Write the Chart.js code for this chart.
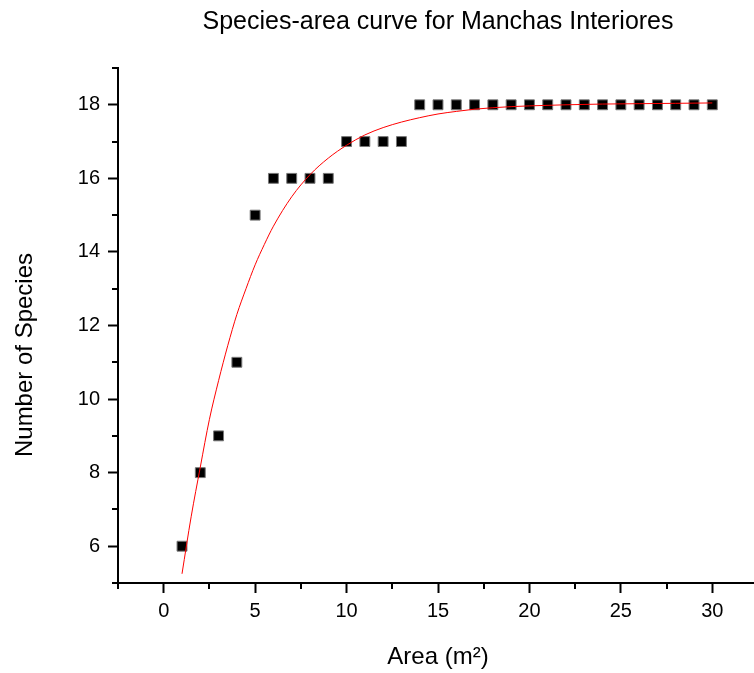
<!DOCTYPE html>
<html>
<head>
<meta charset="utf-8">
<script src="https://cdn.jsdelivr.net/npm/chart.js@4"></script>
<style>
  html, body { margin: 0; padding: 0; background: #fff; overflow: hidden; }
  #wrap { width: 766px; height: 673px; }
</style>
</head>
<body>
<div id="wrap"><canvas id="speciesChart" width="766" height="673"></canvas></div>
<script>
// observed points
const areas = [1, 2, 3, 4, 5, 6, 7, 8, 9, 10, 11, 12, 13, 14, 15, 16, 17, 18, 19, 20, 21, 22, 23, 24, 25, 26, 27, 28, 29, 30];
const species = [6, 8, 9, 11, 15, 16, 16, 16, 16, 17, 17, 17, 17, 18, 18, 18, 18, 18, 18, 18, 18, 18, 18, 18, 18, 18, 18, 18, 18, 18];

// fitted curve
const fitX = [1, 1.5, 2, 2.5, 3, 3.5, 4, 4.5, 5, 5.5, 6, 7, 8, 9, 10, 11, 12, 13, 14, 15, 16, 17, 18, 19, 20, 22, 24, 26, 28, 30];
const fitY = [5.25, 6.8, 8.15, 9.45, 10.5, 11.45, 12.3, 13.0, 13.65, 14.2, 14.7, 15.5, 16.1, 16.55, 16.9, 17.18, 17.38, 17.53, 17.65, 17.75, 17.82, 17.88, 17.92, 17.95, 17.97, 18.0, 18.02, 18.03, 18.04, 18.05];

// tick labels and the unlabelled minor ticks
const xTicks = [0, 5, 10, 15, 20, 25, 30];
const yTicks = [6, 8, 10, 12, 14, 16, 18];
const xMinorTicks = [-2.5, 2.5, 7.5, 12.5, 17.5, 22.5, 27.5, 32.5];
const yMinorTicks = [5, 7, 9, 11, 13, 15, 17, 19];

const FONT = 'Arial, "Liberation Sans", sans-serif';

// small outward ticks between the labelled ones, plus the rotated y title
const extras = {
  id: 'extras',
  afterDraw(chart) {
    const ctx = chart.ctx;
    const xs = chart.scales.x, ys = chart.scales.y;
    const area = chart.chartArea;
    ctx.save();
    ctx.strokeStyle = '#000';
    ctx.lineWidth = 2;
    ctx.beginPath();
    xMinorTicks.forEach(v => {
      const px = Math.round(xs.getPixelForValue(v));
      ctx.moveTo(px, area.bottom);
      ctx.lineTo(px, area.bottom + 6);
    });
    yMinorTicks.forEach(v => {
      const py = Math.round(ys.getPixelForValue(v));
      ctx.moveTo(area.left, py);
      ctx.lineTo(area.left - 6, py);
    });
    ctx.stroke();

    ctx.fillStyle = '#000';
    ctx.font = '24px ' + FONT;
    ctx.textAlign = 'center';
    ctx.textBaseline = 'middle';
    ctx.translate(25, 355);
    ctx.rotate(-Math.PI / 2);
    ctx.fillText('Number of Species', 0, 0);
    ctx.restore();
  }
};

new Chart(document.getElementById('speciesChart').getContext('2d'), {
  data: {
    datasets: [{
      type: 'line',
      label: 'fit',
      data: fitX.map((x, i) => ({x: x, y: fitY[i]})),
      borderColor: '#ff0000',
      borderWidth: 1,
      pointRadius: 0,
      cubicInterpolationMode: 'monotone',
      fill: false,
      order: 0
    }, {
      type: 'scatter',
      label: 'species',
      data: areas.map((x, i) => ({x: x, y: species[i]})),
      pointStyle: 'rect',
      pointRadius: 7,
      backgroundColor: '#000',
      borderColor: '#777',
      borderWidth: 1,
      order: 1
    }]
  },
  options: {
    responsive: false,
    animation: false,
    layout: { padding: 0 },
    plugins: {
      legend: { display: false },
      tooltip: { enabled: false },
      title: {
        display: true,
        text: 'Species-area curve for Manchas Interiores',
        fullSize: false,
        align: 'center',
        color: '#000',
        font: { family: FONT, size: 25, weight: 'normal' },
        padding: { top: 7, bottom: 31 }
      }
    },
    scales: {
      x: {
        type: 'linear',
        min: -2.5,
        max: 32.5,
        afterFit: s => { s.height = 90; },
        afterBuildTicks: s => { s.ticks = xTicks.map(v => ({value: v})); },
        ticks: {
          color: '#000',
          padding: 6,
          font: { family: FONT, size: 20 }
        },
        grid: { drawOnChartArea: false, drawTicks: true, tickLength: 10, tickWidth: 2, tickColor: '#000' },
        border: { display: true, color: '#000', width: 2 },
        title: {
          display: true,
          text: 'Area (m²)',
          color: '#000',
          font: { family: FONT, size: 24 },
          padding: { top: 0, bottom: 1 }
        }
      },
      y: {
        type: 'linear',
        min: 5,
        max: 19,
        afterFit: s => { s.width = 118; },
        afterBuildTicks: s => { s.ticks = yTicks.map(v => ({value: v})); },
        ticks: {
          color: '#000',
          padding: 8,
          font: { family: FONT, size: 20 }
        },
        grid: { drawOnChartArea: false, drawTicks: true, tickLength: 10, tickWidth: 2, tickColor: '#000' },
        border: { display: true, color: '#000', width: 2 }
      }
    }
  },
  plugins: [extras]
});
</script>
</body>
</html>
